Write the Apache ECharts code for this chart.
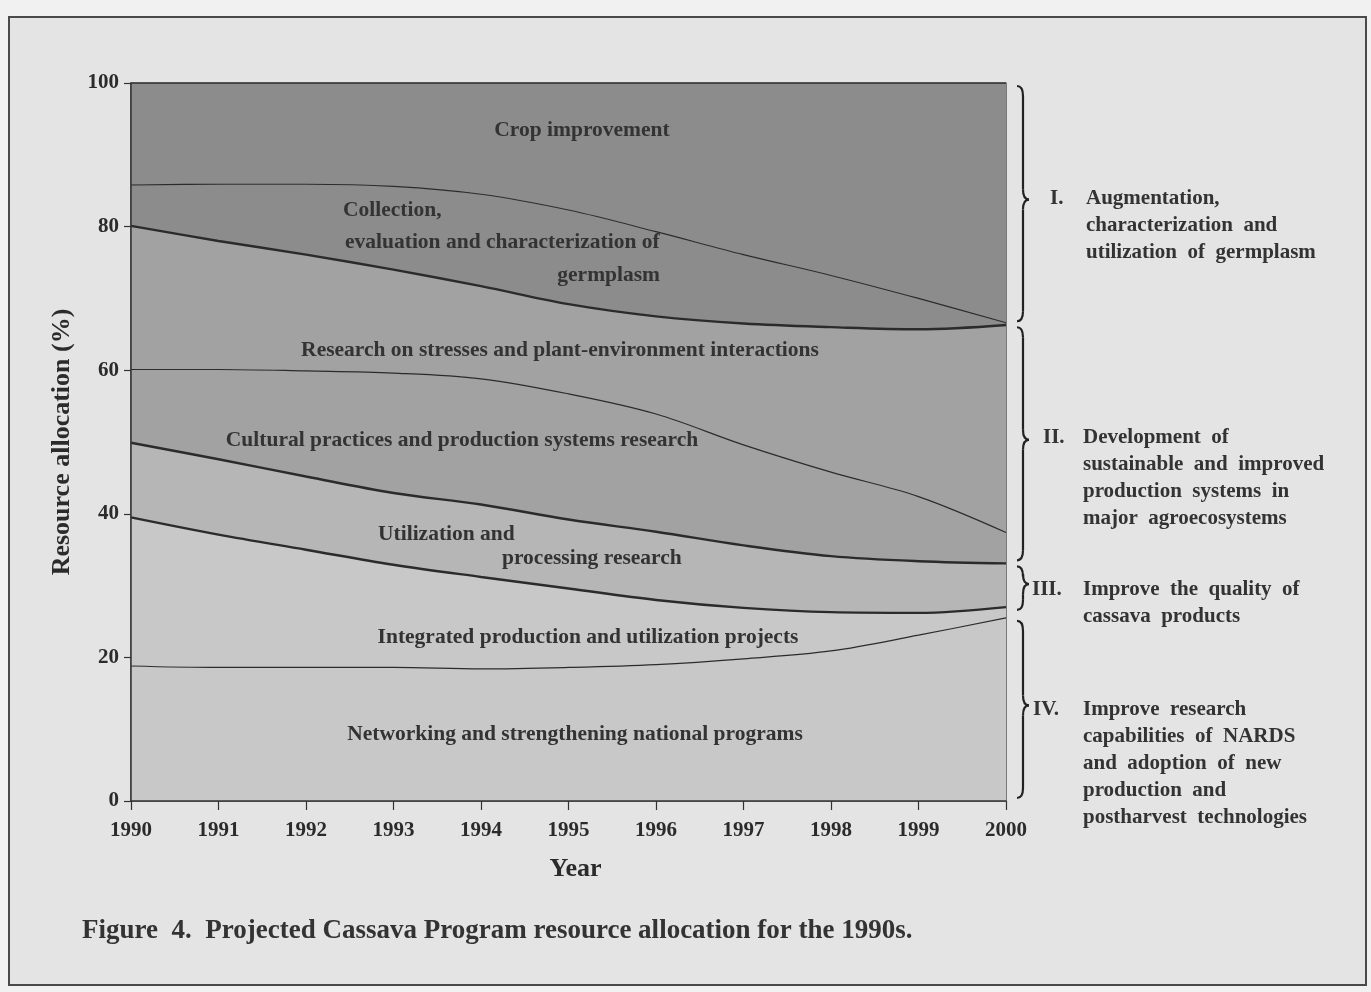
<!DOCTYPE html>
<html>
<head>
<meta charset="utf-8">
<script src="https://cdn.jsdelivr.net/npm/echarts@6/dist/echarts.min.js"></script>
<style>
  html, body { margin:0; padding:0; background:#f1f1f1; }
  #frame { position:absolute; left:8px; top:16px; width:1355px; height:966px; background:#e4e4e4; border:2px solid #4a4a4a; }
  #chart { position:absolute; left:0; top:0; width:1371px; height:992px; }
</style>
</head>
<body>
<div id="frame"></div>
<div id="chart"></div>
<script>
// ---- data (percent of resources, stacked bottom -> top) ----
const years = ['1990','1991','1992','1993','1994','1995','1996','1997','1998','1999','2000'];
const networking  = [18.8,18.6,18.6,18.6,18.4,18.6,19.0,19.8,20.9,23.1,25.5];
const integrated  = [20.7,18.5,16.4,14.3,12.8,11.0,9.0,7.1,5.4,3.1,1.5];
const utilization = [10.4,10.5,10.2,10.0,10.1,9.6,9.5,8.7,7.8,7.2,6.1];
const cultural    = [10.2,12.5,14.7,16.7,17.5,17.5,16.4,14.0,11.7,9.0,4.3];
const stresses    = [20.0,17.9,16.2,14.4,12.9,12.5,13.6,16.9,20.2,23.3,28.9];
const collection  = [5.7,7.9,9.8,11.6,12.8,13.1,11.8,9.6,7.2,4.3,0.3];
const crop        = [14.2,14.1,14.1,14.4,15.5,17.7,20.7,23.9,26.8,30.0,33.4];
const yTicks = [0,20,40,60,80,100];

const serif = '"Liberation Serif", "DejaVu Serif", serif';
const ink = '#2b2b2b';

function band(name, data, fill, lineW) {
  return {
    name: name, type: 'line', stack: 'all', data: data,
    smooth: 0.35, symbol: 'none',
    lineStyle: { color: ink, width: lineW },
    areaStyle: { color: fill, opacity: 1 },
    emphasis: { disabled: true }
  };
}

const chart = echarts.init(document.getElementById('chart'), null, { renderer: 'canvas' });
const option = {
  backgroundColor: 'transparent',
  animation: false,
  grid: { left: 131, top: 83, width: 875, height: 718, show: true, borderColor: '#333', borderWidth: 1.2, backgroundColor: 'transparent' },
  xAxis: {
    type: 'category', data: years, boundaryGap: false,
    name: 'Year', nameLocation: 'middle', nameGap: 55,
    nameTextStyle: { fontFamily: serif, fontSize: 26, fontWeight: 'bold', color: ink, padding: [0, 0, 0, 14] },
    axisLine: { lineStyle: { color: '#333', width: 1.5 } },
    axisTick: { show: true, length: 9, alignWithLabel: true, lineStyle: { color: '#333', width: 1.2 } },
    axisLabel: { margin: 19, fontFamily: serif, fontSize: 21, fontWeight: 'bold', color: ink },
    splitLine: { show: false }, z: 10
  },
  yAxis: {
    type: 'value', min: 0, max: 100, interval: 20,
    name: 'Resource allocation (%)', nameLocation: 'middle', nameGap: 56, nameRotate: 90,
    nameTextStyle: { fontFamily: serif, fontSize: 26, fontWeight: 'bold', color: ink },
    axisLine: { show: true, lineStyle: { color: '#333', width: 1.5 } },
    axisTick: { show: true, length: 7, lineStyle: { color: '#333', width: 1.2 } },
    axisLabel: { margin: 12, fontFamily: serif, fontSize: 21, fontWeight: 'bold', color: ink,
      formatter: v => yTicks.includes(v) ? String(v) : '' },
    splitLine: { show: false }, z: 10
  },
  series: [
    band('Networking and strengthening national programs', networking, '#c8c8c8', 1.2),
    band('Integrated production and utilization projects', integrated, '#c8c8c8', 2.4),
    band('Utilization and processing research', utilization, '#b6b6b6', 2.4),
    band('Cultural practices and production systems research', cultural, '#a2a2a2', 1.2),
    band('Research on stresses and plant-environment interactions', stresses, '#a2a2a2', 2.4),
    band('Collection, evaluation and characterization of germplasm', collection, '#8c8c8c', 1.1),
    band('Crop improvement', crop, '#8c8c8c', 1.5)
  ]
};
chart.setOption(option);

// ---- annotations: band labels, braces, group texts, caption ----
function txt(x, y, s, align, size) {
  return { type: 'text', x: x, y: y, z: 100,
    style: { text: s, fontFamily: serif, fontSize: size || 21.5, fontWeight: 'bold', fill: '#333',
             verticalAlign: 'middle', align: align || 'left' } };
}

// curly brace built from curves and lines, spanning two data values at the last category
const xLast = chart.convertToPixel({ xAxisIndex: 0 }, '2000');
function brace(vTop, vBot) {
  const y1 = chart.convertToPixel({ yAxisIndex: 0 }, vTop) + 3;
  const y2 = chart.convertToPixel({ yAxisIndex: 0 }, vBot) - 3;
  const x0 = xLast + 11, w = 12, xm = x0 + w * 0.5, ym = (y1 + y2) / 2 - 4;
  const r = Math.min(10, (y2 - y1) / 4);
  const st = { stroke: '#222', lineWidth: 2.2, fill: 'none' };
  const q = (a, b, c, d, e, f) => ({ type: 'bezierCurve', z: 100, shape: { x1: a, y1: b, cpx1: c, cpy1: d, x2: e, y2: f }, style: st });
  const l = (a, b, c, d) => ({ type: 'line', z: 100, shape: { x1: a, y1: b, x2: c, y2: d }, style: st });
  return [
    q(x0, y1, xm, y1, xm, y1 + r),
    l(xm, y1 + r, xm, ym - r),
    q(xm, ym - r, xm, ym, x0 + w, ym),
    q(x0 + w, ym, xm, ym, xm, ym + r),
    l(xm, ym + r, xm, y2 - r),
    q(xm, y2 - r, xm, y2, x0, y2)
  ];
}

const g = 21;
const els = [
  txt(582, 130, 'Crop improvement', 'center'),
  txt(343, 210, 'Collection,'),
  txt(345, 242, 'evaluation and characterization of'),
  txt(660, 275, 'germplasm', 'right'),
  txt(560, 350, 'Research on stresses and plant-environment interactions', 'center'),
  txt(462, 440, 'Cultural practices and production systems research', 'center'),
  txt(378, 534, 'Utilization and'),
  txt(502, 558, 'processing research'),
  txt(588, 637, 'Integrated production and utilization projects', 'center'),
  txt(575, 734, 'Networking and strengthening national programs', 'center'),
  ...brace(100, 66.4), ...brace(66.4, 33.1), ...brace(33.1, 26.2), ...brace(25.5, 0),
  txt(1050, 199, 'I.', 'left', g), txt(1086, 199, 'Augmentation,', 'left', g), txt(1086, 226, 'characterization  and', 'left', g), txt(1086, 253, 'utilization  of  germplasm', 'left', g),
  txt(1043, 438, 'II.', 'left', g), txt(1083, 438, 'Development  of', 'left', g), txt(1083, 465, 'sustainable  and  improved', 'left', g), txt(1083, 492, 'production  systems  in', 'left', g), txt(1083, 519, 'major  agroecosystems', 'left', g),
  txt(1032, 590, 'III.', 'left', g), txt(1083, 590, 'Improve  the  quality  of', 'left', g), txt(1083, 617, 'cassava  products', 'left', g),
  txt(1033, 710, 'IV.', 'left', g), txt(1083, 710, 'Improve  research', 'left', g), txt(1083, 737, 'capabilities  of  NARDS', 'left', g), txt(1083, 764, 'and  adoption  of  new', 'left', g), txt(1083, 791, 'production  and', 'left', g), txt(1083, 818, 'postharvest  technologies', 'left', g),
  txt(82, 931, 'Figure  4.  Projected Cassava Program resource allocation for the 1990s.', 'left', 27)
];
chart.setOption({ graphic: { elements: els } });
</script>
</body>
</html>
